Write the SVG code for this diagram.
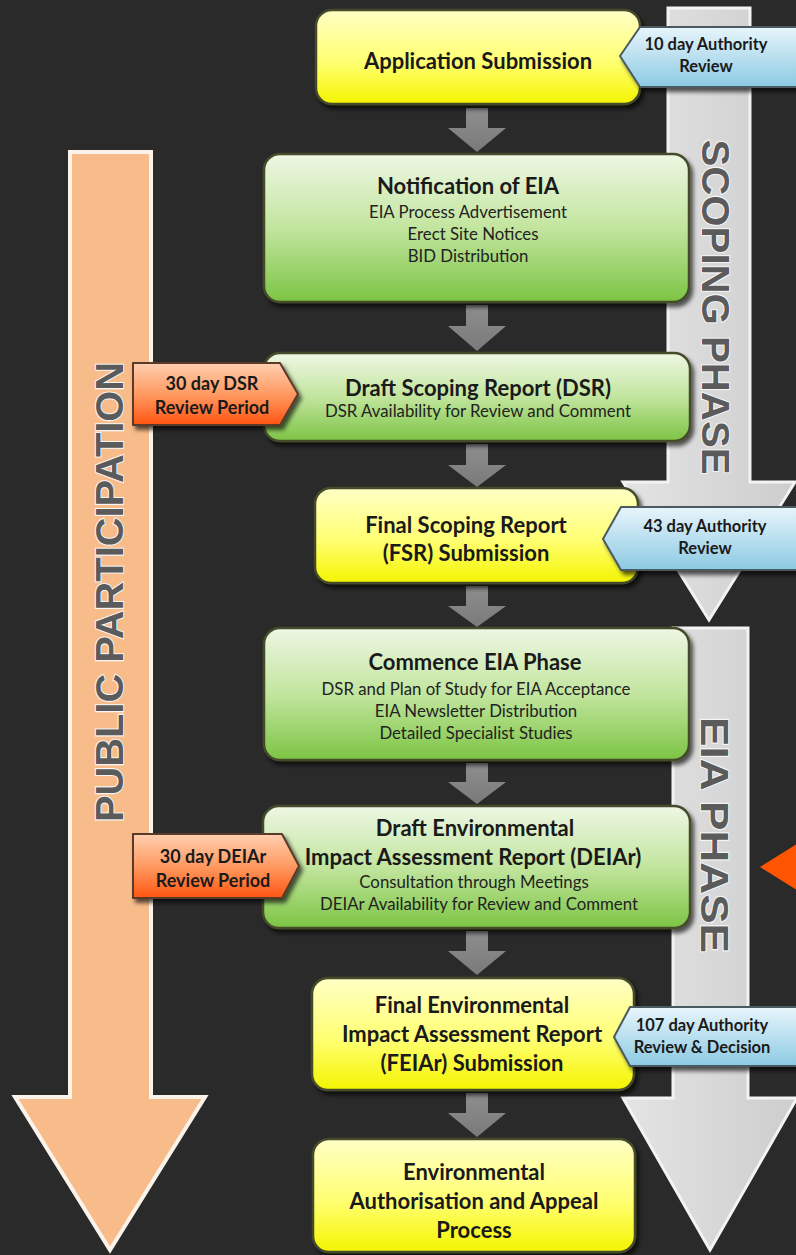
<svg xmlns="http://www.w3.org/2000/svg" width="796" height="1255" viewBox="0 0 796 1255">
<defs>
  <linearGradient id="gYellow" x1="0" y1="0" x2="0" y2="1">
    <stop offset="0" stop-color="#ffffc6"/>
    <stop offset="0.55" stop-color="#ffff72"/>
    <stop offset="1" stop-color="#f4f400"/>
  </linearGradient>
  <linearGradient id="gGreen" x1="0" y1="0" x2="0" y2="1">
    <stop offset="0" stop-color="#eef7e4"/>
    <stop offset="0.5" stop-color="#c2e59e"/>
    <stop offset="1" stop-color="#7cc444"/>
  </linearGradient>
  <linearGradient id="gBlue" x1="0" y1="0" x2="0" y2="1">
    <stop offset="0" stop-color="#e8f5fb"/>
    <stop offset="1" stop-color="#8ccae3"/>
  </linearGradient>
  <linearGradient id="gOrange" x1="0" y1="0" x2="0" y2="1">
    <stop offset="0" stop-color="#ffcfb0"/>
    <stop offset="0.5" stop-color="#ff9a62"/>
    <stop offset="1" stop-color="#ff5512"/>
  </linearGradient>
  <linearGradient id="gPhase" x1="0" y1="0" x2="1" y2="0">
    <stop offset="0" stop-color="#e4e4e4"/>
    <stop offset="1" stop-color="#cdcdcd"/>
  </linearGradient>
  <linearGradient id="gConn" x1="0" y1="0" x2="0" y2="1">
    <stop offset="0" stop-color="#8e8e8e"/>
    <stop offset="1" stop-color="#7a7a7a"/>
  </linearGradient>
  <filter id="shadow" x="-10%" y="-10%" width="125%" height="130%">
    <feDropShadow dx="3" dy="4" stdDeviation="2" flood-color="#000" flood-opacity="0.65"/>
  </filter>
</defs>
<style>
  .box{stroke:#454c2a;stroke-width:2.5;filter:url(#shadow)}
  .yellow{fill:url(#gYellow)}
  .green{fill:url(#gGreen)}
  .blue{fill:url(#gBlue);stroke:#4a5a60;stroke-width:2;stroke-linejoin:round;filter:url(#shadow)}
  .orange{fill:url(#gOrange);stroke:#5a3a2a;stroke-width:2;stroke-linejoin:round;filter:url(#shadow)}
  .t{font-family:Lato,"Liberation Sans",sans-serif;fill:#1a1a1a;text-anchor:middle}
  .tb{font-weight:bold;font-size:22px}
  .ts{font-size:16.8px;fill:#222}
  .tag{font-weight:bold;font-size:16.5px}
  .otag{font-weight:bold;font-size:18px}
  .phase{font-family:"Liberation Sans",Arial,sans-serif;font-weight:bold;font-size:38px;fill:#5b5b5b;stroke:#f5f5f5;stroke-width:2;paint-order:stroke;text-anchor:middle}
  .conn{fill:url(#gConn)}
  .pArrow{fill:url(#gPhase);stroke:#f3f3f3;stroke-width:3;stroke-linejoin:miter}
</style>

<rect x="0" y="0" width="796" height="1255" fill="#2a2a2a"/>

<!-- phase arrows -->
<g id="public-participation">
  <polygon points="70,152 151,152 151,1097 205,1097 110,1250 15,1097 70,1097" fill="#f8bc8b" stroke="#fbf3ea" stroke-width="4"/>
  <text class="phase" transform="translate(109,592) rotate(-90)" x="0" y="14" textLength="460" lengthAdjust="spacingAndGlyphs">PUBLIC PARTICIPATION</text>
</g>
<g id="scoping-phase">
  <polygon class="pArrow" points="668,8 750,8 750,482 795,482 709,620 623,482 668,482"/>
  <text class="phase" transform="translate(715,307) rotate(90)" x="0" y="13.5" textLength="335" lengthAdjust="spacingAndGlyphs">SCOPING PHASE</text>
</g>
<g id="eia-phase">
  <polygon class="pArrow" points="673,628 748,628 748,1098 797,1098 710,1250 623,1098 673,1098"/>
  <text class="phase" transform="translate(714,835) rotate(90)" x="0" y="13.5" textLength="236" lengthAdjust="spacingAndGlyphs">EIA PHASE</text>
</g>

<!-- connectors -->
<g id="connectors">
  <polygon class="conn" points="466,108 488,108 488,128 506,128 477,152 448,128 466,128"/>
  <polygon class="conn" points="466,305 488,305 488,326 506,326 477,351 448,326 466,326"/>
  <polygon class="conn" points="466,444 488,444 488,465 506,465 477,487 448,465 466,465"/>
  <polygon class="conn" points="466,586 488,586 488,606 506,606 477,627 448,606 466,606"/>
  <polygon class="conn" points="466,763 488,763 488,782 506,782 477,804 448,782 466,782"/>
  <polygon class="conn" points="466,931 488,931 488,951 506,951 477,975 448,951 466,951"/>
  <polygon class="conn" points="466,1093 488,1093 488,1113 506,1113 477,1137 448,1113 466,1113"/>
</g>

<!-- nodes -->
<g id="application-submission">
  <rect class="box yellow" x="316" y="10" width="324" height="94" rx="16"/>
  <text class="t tb" x="478" y="69">Application Submission</text>
</g>
<g id="notification-eia">
  <rect class="box green" x="264" y="154" width="425" height="148" rx="16"/>
  <text class="t tb" x="468" y="194">Notification of EIA</text>
  <text class="t ts" x="468" y="218">EIA Process Advertisement</text>
  <text class="t ts" x="473" y="240">Erect Site Notices</text>
  <text class="t ts" x="468" y="262">BID Distribution</text>
</g>
<g id="draft-scoping-report">
  <rect class="box green" x="264" y="353" width="426" height="88" rx="16"/>
  <text class="t tb" x="478" y="396">Draft Scoping Report (DSR)</text>
  <text class="t ts" x="478" y="417">DSR Availability for Review and Comment</text>
</g>
<g id="final-scoping-report">
  <rect class="box yellow" x="315" y="488" width="323" height="95" rx="16"/>
  <text class="t tb" x="466" y="533">Final Scoping Report</text>
  <text class="t tb" x="466" y="561">(FSR) Submission</text>
</g>
<g id="commence-eia">
  <rect class="box green" x="264" y="628" width="425" height="132" rx="16"/>
  <text class="t tb" x="475" y="670">Commence EIA Phase</text>
  <text class="t ts" x="476" y="695">DSR and Plan of Study for EIA Acceptance</text>
  <text class="t ts" x="476" y="717">EIA Newsletter Distribution</text>
  <text class="t ts" x="476" y="739">Detailed Specialist Studies</text>
</g>
<g id="draft-eiar">
  <rect class="box green" x="263" y="806" width="427" height="122" rx="16"/>
  <text class="t tb" x="475" y="836">Draft Environmental</text>
  <text class="t tb" x="473" y="865">Impact Assessment Report (DEIAr)</text>
  <text class="t ts" x="474" y="888">Consultation through Meetings</text>
  <text class="t ts" x="479" y="910">DEIAr Availability for Review and Comment</text>
</g>
<g id="final-eiar">
  <rect class="box yellow" x="312" y="978" width="322" height="112" rx="16"/>
  <text class="t tb" x="472" y="1013">Final Environmental</text>
  <text class="t tb" x="472" y="1042">Impact Assessment Report</text>
  <text class="t tb" x="472" y="1071">(FEIAr) Submission</text>
</g>
<g id="authorisation-appeal">
  <rect class="box yellow" x="313" y="1139" width="322" height="113" rx="16"/>
  <text class="t tb" x="474" y="1180">Environmental</text>
  <text class="t tb" x="474" y="1209">Authorisation and Appeal</text>
  <text class="t tb" x="474" y="1238">Process</text>
</g>

<!-- tags -->
<g id="tag-10-day">
  <path class="blue" d="M620,56 L640,27 L800,27 L800,87 L640,87 Z"/>
  <text class="t tag" x="706" y="50">10 day Authority</text>
  <text class="t tag" x="706" y="72">Review</text>
</g>
<g id="tag-43-day">
  <path class="blue" d="M603,539 L621,507 L800,507 L800,570 L621,570 Z"/>
  <text class="t tag" x="705" y="532">43 day Authority</text>
  <text class="t tag" x="705" y="554">Review</text>
</g>
<g id="tag-107-day">
  <path class="blue" d="M614,1037 L630,1007 L800,1007 L800,1066 L630,1066 Z"/>
  <text class="t tag" x="702" y="1031">107 day Authority</text>
  <text class="t tag" x="702" y="1053">Review &amp; Decision</text>
</g>
<g id="tag-30-day-dsr">
  <path class="orange" d="M133,363 L280,363 L298,394 L280,425 L133,425 Z"/>
  <text class="t otag" x="212" y="390">30 day DSR</text>
  <text class="t otag" x="212" y="414">Review Period</text>
</g>
<g id="tag-30-day-deiar">
  <path class="orange" d="M133,834 L282,834 L299,866 L282,898 L133,898 Z"/>
  <text class="t otag" x="213" y="863">30 day DEIAr</text>
  <text class="t otag" x="213" y="887">Review Period</text>
</g>

<polygon points="760,867 800,842 800,892" fill="#ff5500"/>
</svg>
